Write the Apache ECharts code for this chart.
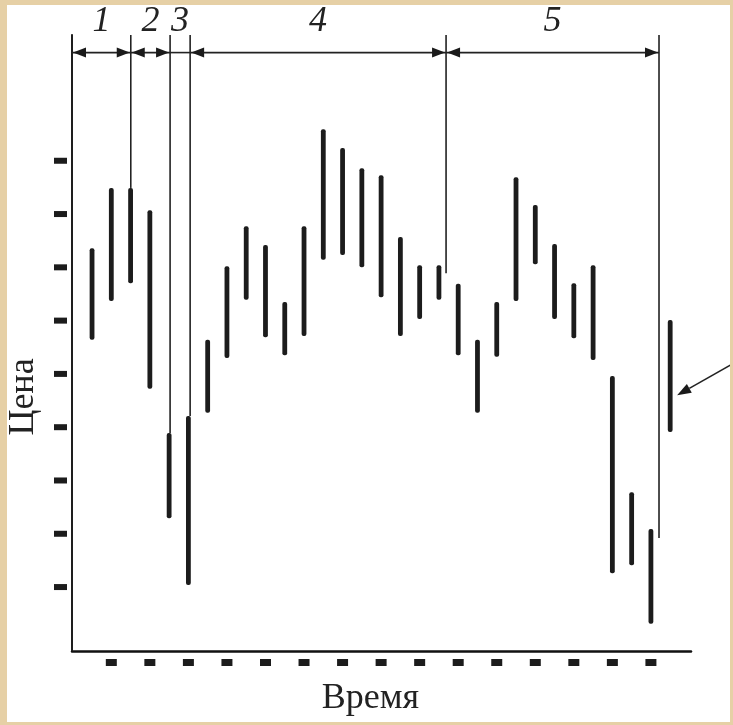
<!DOCTYPE html>
<html>
<head>
<meta charset="utf-8">
<script src="https://cdn.jsdelivr.net/npm/echarts@6/dist/echarts.min.js"></script>
<style>
  html, body { margin: 0; padding: 0; background: #ffffff; }
  #chart { width: 733px; height: 725px; }
</style>
</head>
<body>
<div id="chart"></div>
<script>
// ---- data ----
// price bars (one per period, 0..30): high and low, in y-tick units (ticks 1..9)
const barHighs = [7.36, 8.49, 8.49, 8.07, 3.89, 4.21, 5.64, 7.02, 7.77, 7.42, 6.35, 7.77, 9.59, 9.24, 8.86, 8.73,
                  7.57, 7.04, 7.04, 6.69, 5.64, 6.35, 8.69, 8.17, 7.44, 6.70, 7.04, 4.96, 2.78, 2.09, 6.01];
const barLows  = [5.64, 6.37, 6.70, 4.72, 2.29, 1.04, 4.27, 5.30, 6.39, 5.69, 5.35, 5.71, 7.14, 7.23, 7.00, 6.44,
                  5.71, 6.03, 6.39, 5.35, 4.27, 5.32, 6.37, 7.06, 6.03, 5.67, 5.26, 1.26, 1.41, 0.31, 3.91];
// tick marks (unlabelled dashes)
const timeTicks  = [1, 3, 5, 7, 9, 11, 13, 15, 17, 19, 21, 23, 25, 27, 29];
const priceTicks = [1, 2, 3, 4, 5, 6, 7, 8, 9];
// phase boundaries (in period units), the price where each divider line ends, and phase names
const phaseBounds  = [-1.04, 2.01, 4.05, 5.09, 18.37, 29.42];
const dividerEnds  = [-0.2, 8.49, 3.89, 4.21, 6.89, 1.92];
const phaseLabels  = ['1', '2', '3', '4', '5'];
// pointer arrow to the last bar: [from, to]
const pointerArrow = [[33.3, 5.2], [30.36, 4.6]];

const X_MIN = -1.04, X_MAX = 31.08, Y_MIN = -0.2, Y_MAX = 11.36;
const ARROW_Y = 11.03, LABEL_Y = 11.62;
const INK = '#1c1c1c';
const BEIGE = '#e6d0a6';

const barData = barHighs.map((h, i) => [i, h, barLows[i]]);
const phaseData = phaseLabels.map((lab, k) => [phaseBounds[k], phaseBounds[k + 1], lab]);
const dividerData = phaseBounds.map((b, k) => [b, dividerEnds[k]]);

const chart = echarts.init(document.getElementById('chart'), null, { renderer: 'canvas' });

const option = {
  animation: false,
  backgroundColor: '#ffffff',
  grid: { left: 72, top: 35, right: 42, bottom: 74, containLabel: false, outerBoundsMode: 'none' },
  xAxis: {
    type: 'value', min: X_MIN, max: X_MAX,
    axisLine: { show: true, onZero: false, lineStyle: { color: '#111', width: 2.5 } },
    axisTick: { show: false },
    splitLine: { show: false },
    axisLabel: {
      customValues: timeTicks, margin: 8,
      formatter: () => '{d| }',
      rich: { d: { width: 11, height: 7, backgroundColor: INK } }
    },
    name: 'Время', nameLocation: 'middle', nameGap: 30,
    nameTextStyle: { fontFamily: '"Liberation Serif", serif', fontSize: 36, color: '#222', padding: [0, 22, 0, 0] }
  },
  yAxis: {
    type: 'value', min: Y_MIN, max: Y_MAX,
    axisLine: { show: true, onZero: false, lineStyle: { color: '#111', width: 2 } },
    axisTick: { show: false },
    splitLine: { show: false },
    axisLabel: {
      customValues: priceTicks, margin: 5,
      formatter: () => '{d| }',
      rich: { d: { width: 13, height: 6, backgroundColor: INK } }
    },
    name: 'Цена', nameLocation: 'middle', nameGap: 30, nameRotate: 90,
    nameTextStyle: { fontFamily: '"Liberation Serif", serif', fontSize: 36, color: '#222', padding: [0, 108, 0, 0] }
  },
  series: [
    {
      name: 'bars', type: 'custom', data: barData,
      encode: { x: 0, y: [1, 2] },
      renderItem: function (params, api) {
        const top = api.coord([api.value(0), api.value(1)]);
        const bot = api.coord([api.value(0), api.value(2)]);
        const w = 4.8;
        return {
          type: 'rect',
          shape: { x: top[0] - w / 2, y: top[1], width: w, height: bot[1] - top[1], r: 2 },
          style: { fill: INK }
        };
      }
    },
    {
      name: 'dividers', type: 'custom', data: dividerData, clip: false,
      encode: { x: 0, y: 1 },
      renderItem: function (params, api) {
        const a = api.coord([api.value(0), Y_MAX]);
        const b = api.coord([api.value(0), api.value(1)]);
        return {
          type: 'line',
          shape: { x1: a[0], y1: a[1], x2: b[0], y2: b[1] },
          style: { stroke: '#222', lineWidth: 1.6 }
        };
      }
    },
    {
      name: 'phases', type: 'custom', data: phaseData, clip: false,
      encode: { x: [0, 1] },
      renderItem: function (params, api) {
        const p1 = api.coord([api.value(0), ARROW_Y]);
        const p2 = api.coord([api.value(1), ARROW_Y]);
        const ly = api.coord([0, LABEL_Y])[1];
        const y = p1[1];
        const children = [{
          type: 'line',
          shape: { x1: p1[0], y1: y, x2: p2[0], y2: y },
          style: { stroke: '#222', lineWidth: 1.6 }
        }];
        if (p2[0] - p1[0] > 30) {
          const L = 13, H = 5;
          children.push({ type: 'polygon', shape: { points: [[p1[0] + 1, y], [p1[0] + 1 + L, y - H], [p1[0] + 1 + L, y + H]] }, style: { fill: '#1a1a1a' } });
          children.push({ type: 'polygon', shape: { points: [[p2[0] - 1, y], [p2[0] - 1 - L, y - H], [p2[0] - 1 - L, y + H]] }, style: { fill: '#1a1a1a' } });
        }
        children.push({
          type: 'text',
          style: {
            text: api.value(2) + '', x: (p1[0] + p2[0]) / 2, y: ly,
            font: 'italic 36px "Liberation Serif", serif', fill: '#222',
            align: 'center', verticalAlign: 'middle'
          }
        });
        return { type: 'group', children: children };
      }
    },
    {
      name: 'pointer', type: 'custom', data: [pointerArrow[0].concat(pointerArrow[1])], clip: false,
      encode: { x: [0, 2], y: [1, 3] },
      renderItem: function (params, api) {
        const a = api.coord([api.value(0), api.value(1)]);
        const b = api.coord([api.value(2), api.value(3)]);
        const dx = b[0] - a[0], dy = b[1] - a[1];
        const len = Math.sqrt(dx * dx + dy * dy);
        const ux = dx / len, uy = dy / len;
        const L = 14, H = 5;
        const bx = b[0] - ux * L, by = b[1] - uy * L;
        return {
          type: 'group',
          children: [
            { type: 'line', shape: { x1: a[0], y1: a[1], x2: bx, y2: by }, style: { stroke: '#222', lineWidth: 1.6 } },
            { type: 'polygon', shape: { points: [[b[0], b[1]], [bx - uy * H, by + ux * H], [bx + uy * H, by - ux * H]] }, style: { fill: '#1a1a1a' } }
          ]
        };
      }
    }
  ],
  graphic: [
    { type: 'rect', left: 0, top: 0, shape: { width: 733, height: 5 }, style: { fill: BEIGE }, silent: true, z: 100 },
    { type: 'rect', left: 0, top: 0, shape: { width: 7, height: 725 }, style: { fill: BEIGE }, silent: true, z: 100 },
    { type: 'rect', right: 0, top: 0, shape: { width: 3, height: 725 }, style: { fill: BEIGE }, silent: true, z: 100 },
    { type: 'rect', left: 0, bottom: 0, shape: { width: 733, height: 3 }, style: { fill: BEIGE }, silent: true, z: 100 }
  ]
};

chart.setOption(option);
</script>
</body>
</html>
